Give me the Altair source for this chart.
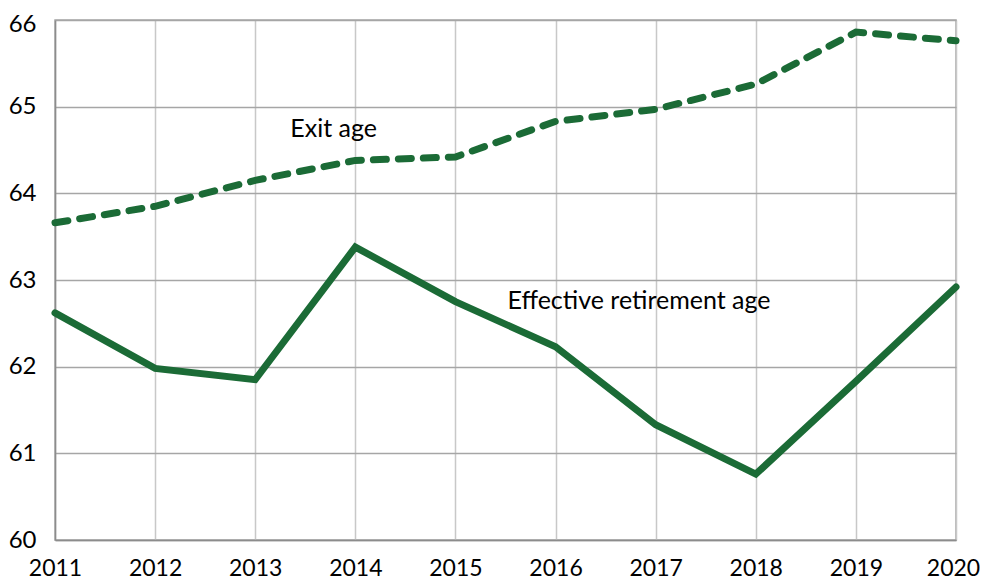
import altair as alt
import pandas as pd

years = [2011, 2012, 2013, 2014, 2015, 2016, 2017, 2018, 2019, 2020]
exit_age = [63.66, 63.85, 64.15, 64.38, 64.42, 64.83, 64.97, 65.26, 65.86, 65.76]
effective_age = [62.62, 61.98, 61.85, 63.38, 62.75, 62.23, 61.33, 60.76, 61.83, 62.92]
y_ticks = [60, 61, 62, 63, 64, 65, 66]

label_text = ["Exit age", "Effective retirement age"]
label_year = [2013.35, 2015.52]
label_value = [64.65, 62.66]

GREEN = "#1b6b36"
FONT = "Lato"

df = pd.DataFrame({"year": years, "exit": exit_age, "eff": effective_age})
labels = pd.DataFrame({"text": label_text, "year": label_year, "value": label_value})

x = alt.X("year:Q", scale=alt.Scale(domain=[2011, 2020], nice=False, zero=False),
          axis=alt.Axis(values=years, format="d", title=None, grid=True,
                        gridColor="#c8c8c8", gridWidth=1.5, domainColor="#8c8c8c",
                        domainWidth=1.5, ticks=False, labelPadding=17,
                        labelFontSize=23, labelFont=FONT, labelColor="#000000",
                        labelFlush=False,
                        labelOffset={"condition": {"test": "datum.value === 2020", "value": -3},
                                     "value": 0}))
yscale = alt.Scale(domain=[60, 66], nice=False, zero=False)
yaxis = alt.Axis(values=y_ticks, format="d", title=None, grid=True,
                 gridColor="#a6a6a6", gridWidth=1.5, domainColor="#8c8c8c",
                 domainWidth=1.5, ticks=False, labelPadding=19, labelFontSize=24,
                 labelFont=FONT, labelColor="#000000", labelFlush=False,
                 labelOffset={"condition": {"test": "datum.value === 66", "value": 4},
                              "value": 0})

base = alt.Chart(df)
exit_line = base.mark_line(color=GREEN, strokeWidth=7, strokeDash=[13, 12],
                           strokeCap="round").encode(
    x=x, y=alt.Y("exit:Q", scale=yscale, axis=yaxis))
eff_line = base.mark_line(color=GREEN, strokeWidth=7, strokeCap="round",
                          strokeJoin="miter").encode(
    x="year:Q", y=alt.Y("eff:Q", scale=yscale))
text = alt.Chart(labels).mark_text(align="left", baseline="alphabetic", fontSize=25,
                                   font=FONT, color="#000000").encode(
    x="year:Q", y=alt.Y("value:Q", scale=yscale), text="text:N")

chart = alt.layer(exit_line, eff_line, text).properties(
    width=901, height=520,
    autosize=alt.AutoSizeParams(type="none"),
    padding={"left": 47, "top": 12, "right": 24, "bottom": 40},
).configure_view(stroke="#a6a6a6", strokeWidth=1.5)

chart.save("out.html", embed_options={"renderer": "svg", "actions": False})
